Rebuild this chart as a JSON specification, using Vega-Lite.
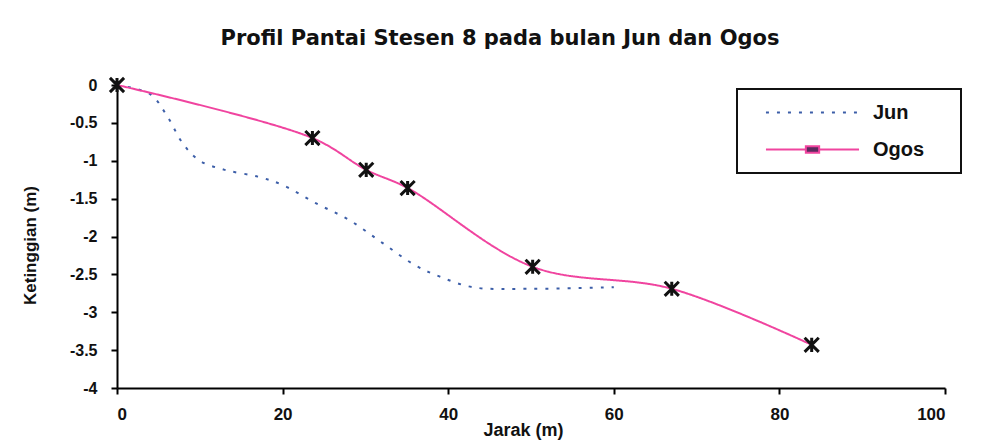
{
  "$schema": "https://vega.github.io/schema/vega-lite/v6.json",
  "width": 828,
  "height": 303,
  "autosize": "none",
  "padding": {"left": 117, "top": 85, "right": 46, "bottom": 60},
  "background": "white",
  "title": {
    "text": "Profil Pantai Stesen 8 pada bulan Jun dan Ogos",
    "font": "DejaVu Sans",
    "fontSize": 21,
    "fontWeight": "bold",
    "color": "#111",
    "anchor": "middle",
    "frame": "group",
    "baseline": "alphabetic",
    "dx": -31,
    "offset": 6
  },
  "config": {
    "view": {"stroke": null},
    "axis": {
      "domainColor": "black",
      "domainWidth": 2,
      "tickColor": "black",
      "tickWidth": 2,
      "tickSize": 6,
      "grid": false,
      "labelFont": "Liberation Sans",
      "labelFontWeight": "bold",
      "labelColor": "#111",
      "labelExpr": "datum.value + ''",
      "titleFont": "Liberation Sans",
      "titleFontWeight": "bold",
      "titleColor": "#111"
    }
  },
  "data": {
    "values": [
      {"jarak": 0, "tinggi": 0, "bulan": "Jun"},
      {"jarak": 4, "tinggi": -0.12, "bulan": "Jun"},
      {"jarak": 6, "tinggi": -0.4, "bulan": "Jun"},
      {"jarak": 8, "tinggi": -0.78, "bulan": "Jun"},
      {"jarak": 10, "tinggi": -1.0, "bulan": "Jun"},
      {"jarak": 13, "tinggi": -1.12, "bulan": "Jun"},
      {"jarak": 17, "tinggi": -1.21, "bulan": "Jun"},
      {"jarak": 20, "tinggi": -1.32, "bulan": "Jun"},
      {"jarak": 24, "tinggi": -1.56, "bulan": "Jun"},
      {"jarak": 28, "tinggi": -1.78, "bulan": "Jun"},
      {"jarak": 32, "tinggi": -2.08, "bulan": "Jun"},
      {"jarak": 36, "tinggi": -2.38, "bulan": "Jun"},
      {"jarak": 39, "tinggi": -2.53, "bulan": "Jun"},
      {"jarak": 43, "tinggi": -2.67, "bulan": "Jun"},
      {"jarak": 50, "tinggi": -2.69, "bulan": "Jun"},
      {"jarak": 60, "tinggi": -2.67, "bulan": "Jun"},
      {"jarak": 0, "tinggi": 0, "bulan": "Ogos"},
      {"jarak": 23.6, "tinggi": -0.7, "bulan": "Ogos"},
      {"jarak": 30.1, "tinggi": -1.12, "bulan": "Ogos"},
      {"jarak": 35.1, "tinggi": -1.36, "bulan": "Ogos"},
      {"jarak": 50.2, "tinggi": -2.4, "bulan": "Ogos"},
      {"jarak": 67, "tinggi": -2.69, "bulan": "Ogos"},
      {"jarak": 83.9, "tinggi": -3.43, "bulan": "Ogos"}
    ]
  },
  "encoding": {
    "x": {
      "field": "jarak",
      "type": "quantitative",
      "scale": {"domain": [0, 100], "nice": false, "zero": false},
      "axis": {
        "title": "Jarak (m)",
        "values": [0, 20, 40, 60, 80, 100],
        "labelFontSize": 17,
        "labelPadding": 12,
        "titleFontSize": 18,
        "titleX": 406,
        "titleY": 42,
        "titleBaseline": "middle",
        "titleAlign": "center"
      }
    },
    "y": {
      "field": "tinggi",
      "type": "quantitative",
      "scale": {"domain": [-4, 0], "nice": false, "zero": false},
      "axis": {
        "title": "Ketinggian (m)",
        "values": [0, -0.5, -1, -1.5, -2, -2.5, -3, -3.5, -4],
        "labelFontSize": 16,
        "labelPadding": 14,
        "titleFontSize": 17,
        "titleX": -87,
        "titleY": 160,
        "titleAngle": 270,
        "titleBaseline": "middle",
        "titleAlign": "center"
      }
    }
  },
  "layer": [
    {
      "mark": {"type": "line", "interpolate": "catmull-rom", "strokeWidth": 2},
      "encoding": {
        "stroke": {
          "field": "bulan",
          "type": "nominal",
          "scale": {"domain": ["Jun", "Ogos"], "range": ["#3c5ea8", "#f0449f"]},
          "legend": {
            "title": null,
            "orient": "none",
            "legendX": 620,
            "legendY": 4,
            "padding": 13,
            "strokeColor": "#111",
            "fillColor": "white",
            "symbolType": "M-4.9,0L4.9,0M13.8,0L13.8,0",
            "symbolSize": 361,
            "symbolStrokeWidth": 2,
            "symbolOffset": 52,
            "labelOffset": 50,
            "labelFont": "Liberation Sans",
            "labelFontSize": 20,
            "labelFontWeight": "bold",
            "labelColor": "#111",
            "rowPadding": 16,
            "encode": {
              "legend": {"update": {"strokeWidth": {"value": 2}}},
              "symbols": {
                "update": {
                  "shape": {"signal": "datum.value === 'Ogos' ? 'M-4.9,0L-0.7,0M0.7,0L4.9,0M-0.7,-0.35L0.7,-0.35L0.7,0.35L-0.7,0.35ZM13.8,0L13.8,0' : 'M-4.9,0L4.9,0M13.8,0L13.8,0'"},
                  "fill": {"signal": "datum.value === 'Ogos' ? '#5b2a5e' : 'transparent'"}
                }
              }
            }
          }
        },
        "strokeDash": {
          "field": "bulan",
          "type": "nominal",
          "scale": {"domain": ["Jun", "Ogos"], "range": [[3, 8], [1, 0]]},
          "legend": null
        }
      }
    },
    {
      "transform": [{"filter": "datum.bulan === 'Ogos'"}],
      "mark": {
        "type": "point",
        "shape": "M-1,-1L1,1M-1,1L1,-1M0,-1L0,1",
        "filled": false,
        "stroke": "#111",
        "strokeWidth": 3,
        "size": 200,
        "opacity": 1
      }
    }
  ]
}
